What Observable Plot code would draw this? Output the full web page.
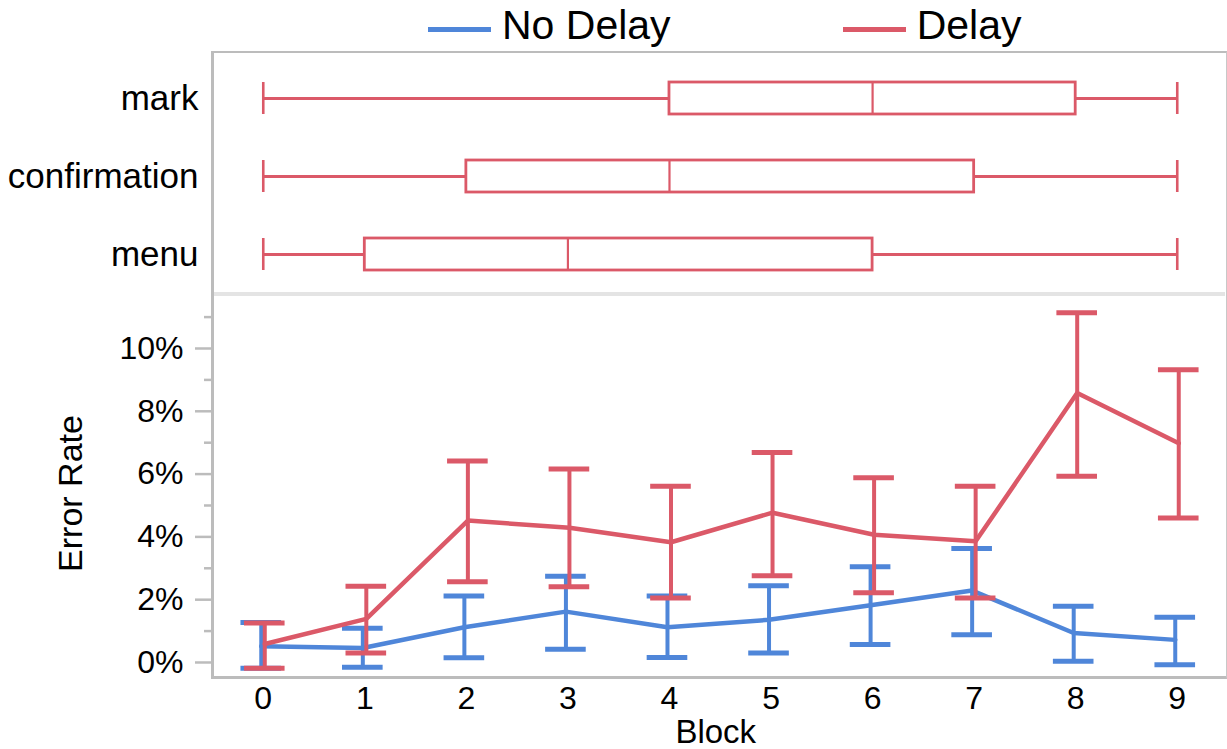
<!DOCTYPE html>
<html><head><meta charset="utf-8">
<script src="https://cdn.jsdelivr.net/npm/d3@7"></script>
<script src="https://cdn.jsdelivr.net/npm/@observablehq/plot@0.6"></script>
<style>
body{margin:0;background:#fff;}
#wrap{position:relative;width:1227px;height:749px;overflow:hidden;font-family:"Liberation Sans",Arial,Helvetica,sans-serif;}
.abs{position:absolute;}
#legend{position:absolute;left:428px;top:5px;display:flex;}
.item{display:flex;align-items:flex-start;margin-right:172px;}
.sw{width:63px;height:5px;margin-top:21.5px;margin-right:11px;}
.lt{font-size:41px;line-height:40px;color:#000;white-space:nowrap;}
</style></head><body>
<div id="wrap">
  <div id="legend"></div>
  <div id="top" class="abs" style="left:0;top:52px"></div>
  <div id="bottom" class="abs" style="left:0;top:296px"></div>
  <div class="abs" style="left:214px;top:292px;width:1011px;height:3.5px;background:#e4e4e4"></div>
  <div class="abs" style="left:211px;top:51px;width:1016px;height:628px;box-sizing:border-box;border-left:3px solid #bcbcbc;border-top:2px solid #bcbcbc;border-bottom:3px solid #bcbcbc;border-right:1px solid #c8c8c8;"></div>
</div>
<script>
// ---- data ----
const blocks = [0, 1, 2, 3, 4, 5, 6, 7, 8, 9];
const seriesNames = ["No Delay", "Delay"];
const seriesColors = ["#4f86d9", "#db5968"];
// error rate in percent
const noDelayMean = [0.52, 0.46, 1.12, 1.62, 1.12, 1.36, 1.82, 2.29, 0.94, 0.72];
const noDelayLow  = [-0.18, -0.15, 0.15, 0.42, 0.16, 0.30, 0.57, 0.88, 0.04, -0.07];
const noDelayHigh = [1.27, 1.09, 2.12, 2.75, 2.12, 2.44, 3.05, 3.63, 1.79, 1.44];
const delayMean = [0.59, 1.39, 4.52, 4.29, 3.83, 4.77, 4.07, 3.86, 8.58, 6.98];
const delayLow  = [-0.18, 0.30, 2.57, 2.41, 2.05, 2.76, 2.22, 2.05, 5.93, 4.60];
const delayHigh = [1.26, 2.43, 6.42, 6.16, 5.61, 6.69, 5.88, 5.61, 11.14, 9.32];
// box plots (top panel)
const boxCats   = ["mark", "confirmation", "menu"];
const boxMin    = [0, 0, 0];
const boxQ1     = [4, 2, 1];
const boxMedian = [6, 4, 3];
const boxQ3     = [8, 7, 6];
const boxMax    = [9, 9, 9];
// ticks & titles
const yMajorTicks = [0, 2, 4, 6, 8, 10];
const yMinorTicks = [1, 3, 5, 7, 9, 11];
const xTitle = "Block";
const yTitle = "Error Rate";

// ---- legend ----
const legend = document.getElementById("legend");
seriesNames.forEach((name, i) => {
  const item = document.createElement("div"); item.className = "item";
  const sw = document.createElement("div"); sw.className = "sw"; sw.style.background = seriesColors[i];
  const t = document.createElement("span"); t.className = "lt"; t.textContent = name;
  item.appendChild(sw); item.appendChild(t); legend.appendChild(item);
});

const FONT = '"Liberation Sans", Arial, Helvetica, sans-serif';
const xDomain = [-0.49, 9.48];
const boxColor = seriesColors[1];

const boxes = boxCats.map((c, i) => ({cat: c, min: boxMin[i], q1: boxQ1[i], med: boxMedian[i], q3: boxQ3[i], max: boxMax[i]}));

const topPlot = Plot.plot({
  width: 1227, height: 244, marginLeft: 213, marginRight: 1.5, marginTop: 0, marginBottom: 0,
  style: {fontFamily: FONT, background: "white", color: "#000"},
  x: {domain: xDomain, axis: null},
  y: {type: "band", domain: boxCats, range: [7, 241], paddingInner: 0.59, paddingOuter: 0.295, label: null},
  marks: [
    Plot.axisY({tickSize: 0, tickPadding: 15, fontSize: 35, label: null, fill: "#000"}),
    Plot.ruleY(boxes, {y: "cat", x1: "min", x2: "q1", stroke: boxColor, strokeWidth: 3}),
    Plot.ruleY(boxes, {y: "cat", x1: "q3", x2: "max", stroke: boxColor, strokeWidth: 3}),
    Plot.barX(boxes, {y: "cat", x1: "q1", x2: "q3", fill: "white", stroke: boxColor, strokeWidth: 2.8}),
    Plot.tickX(boxes, {y: "cat", x: "med", stroke: boxColor, strokeWidth: 2.2}),
    Plot.tickX(boxes, {y: "cat", x: "min", stroke: boxColor, strokeWidth: 2.6}),
    Plot.tickX(boxes, {y: "cat", x: "max", stroke: boxColor, strokeWidth: 2.6})
  ]
});
document.getElementById("top").appendChild(topPlot);

const series = [
  {name: seriesNames[0], color: seriesColors[0], mean: noDelayMean, lo: noDelayLow, hi: noDelayHigh, dx: -2},
  {name: seriesNames[1], color: seriesColors[1], mean: delayMean, lo: delayLow, hi: delayHigh, dx: 1.5}
];
const capHalf = 0.2;
const seriesMarks = series.flatMap(s => {
  const rows = blocks.map((b, i) => ({block: b, mean: s.mean[i], lo: s.lo[i], hi: s.hi[i]}));
  return [
    Plot.ruleX(rows, {x: "block", y1: "lo", y2: "hi", stroke: s.color, strokeWidth: 4, dx: s.dx}),
    Plot.ruleY(rows, {y: "hi", x1: d => d.block - capHalf, x2: d => d.block + capHalf, stroke: s.color, strokeWidth: 5, dx: s.dx}),
    Plot.ruleY(rows, {y: "lo", x1: d => d.block - capHalf, x2: d => d.block + capHalf, stroke: s.color, strokeWidth: 5, dx: s.dx}),
    Plot.line(rows, {x: "block", y: "mean", stroke: s.color, strokeWidth: 4.5, dx: s.dx})
  ];
});

const bottomPlot = Plot.plot({
  width: 1227, height: 453, marginLeft: 213, marginRight: 1.5, marginTop: 0, marginBottom: 71,
  style: {fontFamily: FONT, background: "white", color: "#000"},
  x: {domain: xDomain},
  y: {domain: [-0.51, 11.656]},
  marks: [
    Plot.axisY({ticks: yMajorTicks, tickSize: 18, tickPadding: 12, stroke: "#bcbcbc", strokeWidth: 2.5, fontSize: 32, fill: "#000", tickFormat: d => d + "%", label: null}),
    Plot.axisY({ticks: yMinorTicks, tickSize: 9, stroke: "#bcbcbc", strokeWidth: 2.5, tickFormat: () => "", label: null}),
    Plot.axisX({ticks: blocks, tickSize: 0, tickPadding: 8, fontSize: 32, fill: "#000", tickFormat: d => String(d), label: null}),
    ...seriesMarks,
    Plot.text([xTitle], {text: d => d, frameAnchor: "bottom", lineAnchor: "middle", textAnchor: "middle", dy: 54, dx: -4, fontSize: 33, fill: "#000"}),
    Plot.text([yTitle], {text: d => d, frameAnchor: "left", lineAnchor: "middle", textAnchor: "middle", rotate: -90, dx: -142, dy: 6, fontSize: 34, fill: "#000"})
  ]
});
document.getElementById("bottom").appendChild(bottomPlot);
</script>
</body></html>
